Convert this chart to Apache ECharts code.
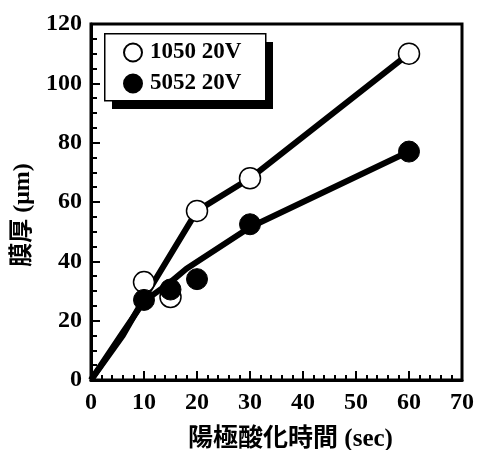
<!DOCTYPE html>
<html>
<head>
<meta charset="utf-8">
<script src="https://cdn.jsdelivr.net/npm/echarts@6/dist/echarts.min.js"></script>
<style>
  html, body { margin: 0; padding: 0; background: #fff; }
  #chart { width: 482px; height: 450px; }
</style>
</head>
<body>
<div id="chart"></div>
<script>
// measured points
var times = [10, 15, 20, 30, 60];
var thick1050 = [33, 28, 57, 68, 110];
var thick5052 = [27, 30.5, 34, 52.5, 77];

// hand-drawn trend lines
var fitTime1050 = [0, 6, 10, 20, 30, 60];
var fit1050 = [0, 15, 27.5, 57, 68, 110];
var fitTime5052 = [0, 6, 10, 15, 18, 30, 60];
var fit5052 = [0, 16, 26.5, 33, 37.5, 51.5, 77];

var xTicks = [0, 10, 20, 30, 40, 50, 60, 70];
var yTicks = [0, 20, 40, 60, 80, 100, 120];

var fontFam = '"Liberation Serif", "Times New Roman", "Noto Sans CJK JP", serif';

function pairs(xs, ys) {
  return xs.map(function (x, i) { return [x, ys[i]]; });
}

var chart = echarts.init(document.getElementById('chart'));

var option = {
  animation: false,
  backgroundColor: '#fff',
  textStyle: { fontFamily: fontFam },
  grid: {
    left: 91,
    right: 20,
    top: 24,
    bottom: 70,
    outerBoundsMode: 'none',
    show: true,
    borderColor: '#000',
    borderWidth: 3
  },
  // legend frame with its drop shadow
  graphic: [
    {
      type: 'rect',
      left: 112, top: 42,
      shape: { width: 161, height: 67 },
      style: { fill: '#000' },
      z: 5
    },
    {
      type: 'rect',
      left: 104, top: 33,
      shape: { width: 161, height: 67 },
      style: { fill: '#fff', stroke: '#000', lineWidth: 1.5 },
      z: 6
    }
  ],
  legend: {
    data: ['1050 20V', '5052 20V'],
    orient: 'vertical',
    left: 104,
    top: 33,
    z: 10,
    padding: [8, 24, 6, 19],
    itemGap: 8,
    itemWidth: 18,
    itemHeight: 18,
    textStyle: {
      fontFamily: fontFam,
      fontWeight: 'bold',
      fontSize: 23,
      color: '#000',
      padding: [0, 0, 0, 3]
    }
  },
  xAxis: {
    type: 'value',
    min: xTicks[0],
    max: xTicks[xTicks.length - 1],
    interval: 10,
    name: '陽極酸化時間 (sec)',
    nameLocation: 'middle',
    nameGap: 47,
    nameTextStyle: { fontFamily: fontFam, fontWeight: 'bold', fontSize: 25, color: '#000', padding: [0, 0, 0, 28] },
    axisLine: { lineStyle: { color: '#000', width: 3 } },
    axisTick: { inside: true, length: 9, lineStyle: { color: '#000', width: 2 } },
    minorTick: { show: true, splitNumber: 5, length: 5, lineStyle: { color: '#000', width: 2 } },
    axisLabel: { margin: 11, fontFamily: fontFam, fontWeight: 'bold', fontSize: 24, color: '#000' },
    splitLine: { show: false }
  },
  yAxis: {
    type: 'value',
    min: yTicks[0],
    max: yTicks[yTicks.length - 1],
    interval: 20,
    name: '膜厚 (μm)',
    nameLocation: 'middle',
    nameGap: 52,
    nameTextStyle: { fontFamily: fontFam, fontWeight: 'bold', fontSize: 24, color: '#000', padding: [0, 26, 0, 0] },
    axisLine: { lineStyle: { color: '#000', width: 3 } },
    axisTick: { inside: true, length: 9, lineStyle: { color: '#000', width: 2 } },
    minorTick: { show: true, splitNumber: 4, length: 6, lineStyle: { color: '#000', width: 2 } },
    axisLabel: { margin: 9, fontFamily: fontFam, fontWeight: 'bold', fontSize: 24, color: '#000' },
    splitLine: { show: false }
  },
  series: [
    {
      name: 'fit1050',
      type: 'line',
      data: pairs(fitTime1050, fit1050),
      showSymbol: false,
      lineStyle: { color: '#000', width: 6 },
      z: 2
    },
    {
      name: 'fit5052',
      type: 'line',
      data: pairs(fitTime5052, fit5052),
      showSymbol: false,
      lineStyle: { color: '#000', width: 6 },
      z: 2
    },
    {
      name: '1050 20V',
      type: 'scatter',
      data: pairs(times, thick1050),
      symbol: 'circle',
      symbolSize: 21,
      itemStyle: { color: '#fff', borderColor: '#000', borderWidth: 1.5, opacity: 1 },
      z: 3
    },
    {
      name: '5052 20V',
      type: 'scatter',
      data: pairs(times, thick5052),
      symbol: 'circle',
      symbolSize: 21,
      itemStyle: { color: '#000', borderColor: '#000', borderWidth: 1, opacity: 1 },
      z: 4
    }
  ]
};

chart.setOption(option);
</script>
</body>
</html>
